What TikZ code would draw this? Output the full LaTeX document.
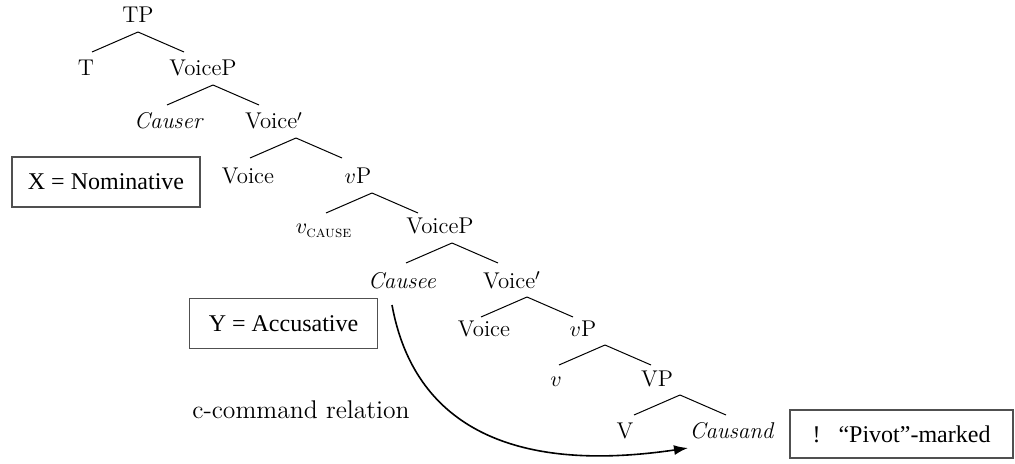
\documentclass[tikz,border=0pt]{standalone}
\usepackage{amsmath}
\usepackage{fontspec}
\newfontfamily\boxfont{Liberation Serif}
\usetikzlibrary{arrows.meta,calc}
\definecolor{boxgray}{HTML}{505050}

\begin{document}
\begin{tikzpicture}[x=0.5pt, y=-0.5pt,
  tnode/.style={anchor=base, inner sep=0pt, font=\fontsize{11.4}{13}\selectfont},
  leg/.style={line width=0.5pt},
  casebox/.style={draw=boxgray, line width=0.6pt, minimum width=94pt, minimum height=25pt, inner sep=0pt, font=\boxfont\fontsize{12}{14}\selectfont},
  ccarrow/.style={line width=0.8pt, -{Latex[length=7pt,width=5pt]}},
]
\useasboundingbox (0,0) rectangle (1015,464);
% tree nodes, one row per level (x = centre, y = baseline)
\node[tnode] (tp) at (138,23) {TP};
\node[tnode] (t) at (86,76) {T};
\node[tnode] (voicepa) at (203,76) {VoiceP};
\node[tnode] (causer) at (169,129) {\textit{Causer}};
\node[tnode] (voicebara) at (274,129) {Voice$'$};
\node[tnode] (voicea) at (248,184) {Voice};
\node[tnode] (vpa) at (358,184) {$v$P};
\node[tnode] (vcause) at (324,234) {$v_{\text{\textsc{cause}}}$};
\node[tnode] (voicepb) at (440,234) {VoiceP};
\node[tnode] (causee) at (402,288) {\textit{Causee}};
\node[tnode] (voicebarb) at (512,288) {Voice$'$};
\node[tnode] (voiceb) at (484,336) {Voice};
\node[tnode] (vpb) at (583,336) {$v$P};
\node[tnode] (vsmall) at (556,386) {$v$};
\node[tnode] (vphr) at (657,386) {VP};
\node[tnode] (verb) at (625,438) {V};
\node[tnode] (causand) at (732,438) {\textit{Causand}};

% branching legs under each phrase
\foreach \n/\dx in {tp/0, voicepa/10, voicebara/22, vpa/14, voicepb/12, voicebarb/15, vpb/22, vphr/23} {
  \coordinate (\n-top) at ($(\n.base)+(\dx,9)$);
  \draw[leg] (\n-top) -- ++(-46,20);
  \draw[leg] (\n-top) -- ++(46,20);
}

% case labels
\node[casebox] (nom) at (106,182) {X = Nominative};
\node[casebox] (acc) at (283.5,323.5) {Y = Accusative};
\node[casebox, minimum width=111.5pt, minimum height=24pt] (pivot) at (901.5,434) {!\hspace{9pt}“Pivot”-marked};

% c-command
\node[anchor=base, inner sep=0pt, font=\fontsize{12.8}{15}\selectfont] (ccrel) at (301,418) {c-command relation};
\coordinate (ccstart) at ($(causee.base)+(-10,17)$);
\coordinate (ccend) at ($(causand.base)+(-44,10)$);
\draw[ccarrow] (ccstart) .. controls +(20,110) and +(-190,28) .. (ccend);
\end{tikzpicture}
\end{document}
